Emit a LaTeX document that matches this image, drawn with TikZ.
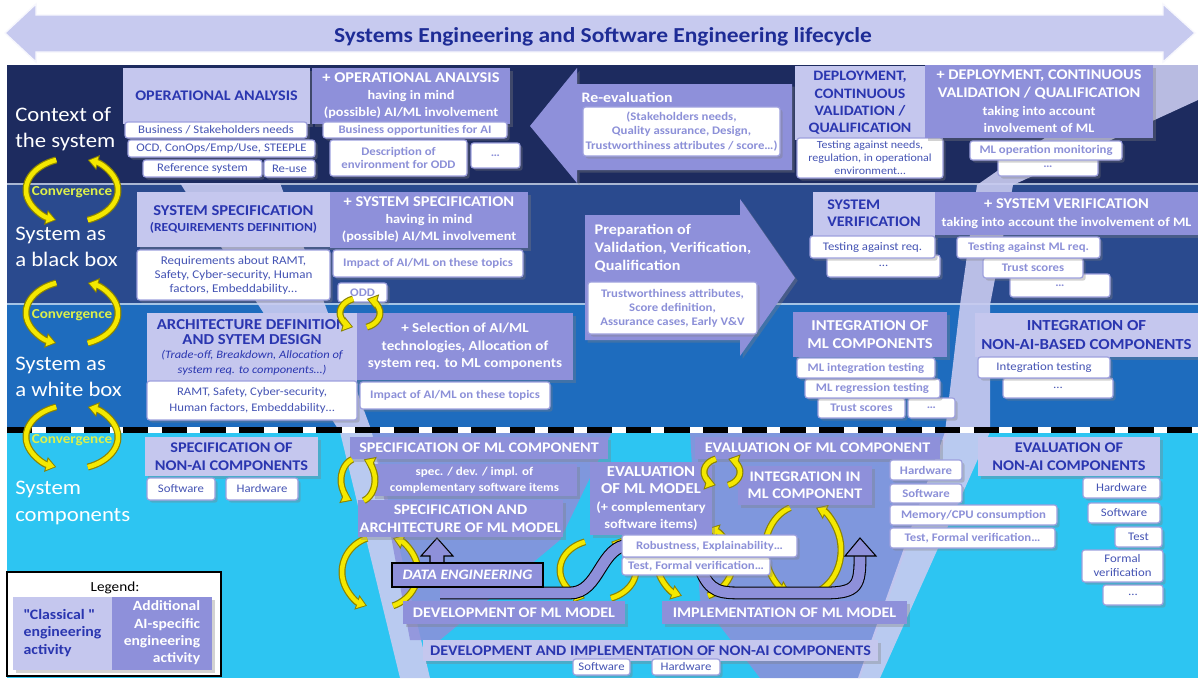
\documentclass[tikz,border=0pt]{standalone}
\usepackage{fontspec}
\setmainfont{Carlito}[FakeStretch=1.1]
\usetikzlibrary{shadows,arrows.meta,calc}
\definecolor{clsfill}{HTML}{C5C7EE}
\definecolor{clstext}{HTML}{2A36B0}
\definecolor{aifill}{HTML}{8E90DA}
\definecolor{subcls}{HTML}{4554B4}
\definecolor{subai}{HTML}{8C90D8}
\definecolor{wbord}{HTML}{9EA0DE}
\definecolor{bandA}{HTML}{1D2B5F}
\definecolor{bandB}{HTML}{2A4A8E}
\definecolor{bandC}{HTML}{1E6CBE}
\definecolor{bandD}{HTML}{2DC5F2}
\definecolor{ttl}{HTML}{1E2C96}
\definecolor{yel}{HTML}{F4E800}
\definecolor{yelo}{HTML}{8C8400}
\definecolor{lightV}{HTML}{C9CBF0}
\definecolor{convtxt}{HTML}{DDF04A}
\definecolor{toparrow}{HTML}{C7CAEF}
\newcommand{\fsz}[2]{\fontsize{#1pt}{#2pt}\selectfont}
\newcommand{\bx}[7]{\node[#1, inner sep=0pt, minimum width={(#5-#3)*0.75pt}, minimum height={(#6-#4)*0.75pt}] (#2) at ({(#3+#5)/2},{(#4+#6)/2}) {#7};}
\newcommand{\conv}[4]{%
  \draw[yelo, line width=5.2pt, -{Triangle[length=8pt,width=11pt]}] ([shift={(-110:#3 and #4)}]#1,#2) arc[start angle=-110, end angle=-250, x radius=#3, y radius=#4];
  \draw[yel, line width=3.4pt, shorten >=1.2pt, -{Triangle[length=6pt,width=8pt]}] ([shift={(-110:#3 and #4)}]#1,#2) arc[start angle=-110, end angle=-250, x radius=#3, y radius=#4];
  \draw[yelo, line width=5.2pt, -{Triangle[length=8pt,width=11pt]}] ([shift={(70:#3 and #4)}]#1,#2) arc[start angle=70, end angle=-70, x radius=#3, y radius=#4];
  \draw[yel, line width=3.4pt, shorten >=1.2pt, -{Triangle[length=6pt,width=8pt]}] ([shift={(70:#3 and #4)}]#1,#2) arc[start angle=70, end angle=-70, x radius=#3, y radius=#4];}
\tikzset{
  shd/.style={drop shadow={opacity=0.35, shadow xshift=2pt, shadow yshift=-2pt}},
  cls/.style={fill=clsfill, text=clstext, align=center, font=\bfseries\fsz{11}{13}, shd},
  ai/.style={fill=aifill, text=white, align=center, font=\bfseries\fsz{11}{13}, shd},
  wcls/.style={fill=white, draw=wbord, line width=0.9pt, rounded corners=2pt, text=subcls, align=center, font=\fsz{8.7}{10}, shd},
  wai/.style={fill=white, draw=wbord, line width=0.9pt, rounded corners=2pt, text=subai, align=center, font=\bfseries\fsz{8.7}{10}, shd},
  band/.style={white, align=left, anchor=west, inner sep=0pt, font=\fsz{15.5}{20}},
  convlbl/.style={text=convtxt, font=\bfseries\fsz{10.3}{11}},
  hollow/.style={draw=black, line width=0.8pt, fill=aifill},
}
\begin{document}
\begin{tikzpicture}[x=0.75pt, y=-0.75pt]
\useasboundingbox (0,0) rectangle (1198,678);
\fill[white] (0,0) rectangle (1198,678);
% top arrow
\fill[toparrow, draw=white!85!toparrow, line width=1pt] (5,33) -- (36,4) -- (36,15) -- (1163,15) -- (1163,4) -- (1195,33) -- (1163,62) -- (1163,52) -- (36,52) -- (36,62) -- cycle;
\node[text=ttl, font=\bfseries\fsz{16}{18}] (title) at (603,37) {Systems Engineering and Software Engineering lifecycle};
% bands
\fill[bandA] (7,65) rectangle (1198,183);
\fill[bandB] (7,185) rectangle (1198,303);
\fill[bandC] (7,305) rectangle (1198,428);
\fill[bandD] (7,432) rectangle (1198,678);
\fill[white!60!bandB] (7,183) rectangle (1198,185);
\fill[white!60!bandC] (7,303) rectangle (1198,305);
% V background
\fill[lightV, opacity=0.9] (180,183) -- (280,183) -- (372,432) -- (430,678) -- (400,678) -- (340,432) -- cycle;
\fill[aifill, opacity=0.85] (372,432) -- (612,432) -- (560,540) -- (440,640) -- (410,640) -- cycle;
\fill[aifill, opacity=0.85] (690,432) -- (948,432) -- (860,678) -- (760,678) -- (700,600) -- cycle;
\fill[lightV, opacity=0.9] (1150,65) -- (1198,65) -- (1198,100) -- (1013,185) -- (990,305) -- (990,432) -- (880,678) -- (858,678) -- (945,432) -- (960,305) -- (977,185) -- cycle;
% dashed separator
\draw[white, line width=4.5pt] (7,430) -- (1198,430);
\draw[black, line width=4.5pt, dash pattern=on 19pt off 10pt] (7,430) -- (1198,430);
% band labels
\node[band] (l1) at (15,129) {Context of\\the system};
\node[band] (l2) at (15,247) {System as\\a black box};
\node[band] (l3) at (15,377) {System as\\a white box};
\node[band] (l4) at (15,503) {System\\components};
% convergence
\conv{72}{190}{46}{32}
\conv{72}{313}{46}{32}
\conv{72}{437}{46}{32}
\node[convlbl] (c1) at (72,192) {Convergence};
\node[convlbl] (c2) at (72,315) {Convergence};
\node[convlbl] (c3) at (72,440) {Convergence};
% ================= Band 1
\bx{cls}{oa}{123}{68}{310}{124}{OPERATIONAL ANALYSIS}
\bx{ai, font=\bfseries\fsz{9.7}{12.8}}{oaai}{312}{68}{510}{124}{{\fsz{11.2}{13}+ OPERATIONAL ANALYSIS}\\having in mind\\(possible) AI/ML involvement}
\bx{wcls}{bsn}{125}{122}{307}{138}{Business / Stakeholders needs}
\bx{wcls}{ocd}{128}{140}{315}{157}{OCD, ConOps/Emp/Use, STEEPLE}
\bx{wcls}{refs}{143}{160}{262}{177}{Reference system}
\bx{wcls}{reuse}{264}{160}{315}{177}{Re-use}
\bx{wai}{bopp}{323}{122}{507}{138}{Business opportunities for AI}
\bx{wai}{descodd}{330}{140}{467}{176}{Description of\\environment for ODD}
\bx{wai}{dotsA}{471}{143}{520}{168}{\dots}
% re-evaluation arrow
\fill[aifill, shd] (530,126) -- (577,68) -- (577,84) -- (792,84) -- (792,170) -- (577,170) -- (577,183) -- cycle;
\node[anchor=west, text=white, font=\bfseries\fsz{10.8}{12}] (reev) at (577,97) {Re-evaluation};
\bx{wai, font=\bfseries\fsz{8.7}{10.8}}{reevw}{583}{107}{780}{156}{(Stakeholders needs,\\Quality assurance, Design,\\Trustworthiness attributes / score\dots)}
\bx{cls, font=\bfseries\fsz{10.8}{13}}{dep}{795}{66}{925}{140}{DEPLOYMENT,\\CONTINUOUS\\VALIDATION /\\QUALIFICATION}
\bx{wcls, font=\fsz{8.2}{9.8}}{depw}{797}{138}{943}{178}{Testing against needs,\\regulation, in operational\\environment\dots}
\bx{ai, font=\bfseries\fsz{9.7}{13.3}}{depai}{925}{65}{1153}{138}{{\fsz{11.1}{13}+ DEPLOYMENT, CONTINUOUS}\\{\fsz{11.1}{13}VALIDATION / QUALIFICATION}\\taking into account\\involvement of ML}
\bx{wai}{dotsB}{998}{158}{1098}{176}{\dots}
\bx{wai}{mlop}{970}{141}{1122}{160}{ML operation monitoring}
% ================= Band 2
\bx{cls, font=\bfseries\fsz{9.2}{12}}{ss}{137}{192}{330}{247}{{\fsz{11.3}{13}SYSTEM SPECIFICATION}\\(REQUIREMENTS DEFINITION)}
\bx{wcls, font=\fsz{8.9}{10.5}}{ssw}{137}{250}{330}{300}{Requirements about RAMT,\\Safety, Cyber-security, Human\\factors, Embeddability\dots}
\bx{ai, font=\bfseries\fsz{9.7}{12.8}}{ssai}{330}{192}{528}{248}{{\fsz{11.2}{13}+ SYSTEM SPECIFICATION}\\having in mind\\(possible) AI/ML involvement}
\bx{wai}{ssimp}{333}{250}{523}{277}{Impact of AI/ML on these topics}
\bx{wai}{odd}{338}{283}{387}{302}{ODD}
% preparation arrow
\fill[aifill, shd] (585,215) -- (740,215) -- (740,199) -- (795,278) -- (740,356) -- (740,340) -- (585,340) -- cycle;
\node[anchor=west, text=white, align=left, font=\bfseries\fsz{11}{13.5}] (prep) at (590,248) {Preparation of\\Validation, Verification,\\Qualification};
\bx{wai, font=\bfseries\fsz{8.7}{10.5}}{prepw}{588}{282}{757}{334}{Trustworthiness attributes,\\Score definition,\\Assurance cases, Early V\&V}
\bx{cls}{sv}{813}{192}{935}{237}{\begin{tabular}{@{}l@{}}SYSTEM\\VERIFICATION\end{tabular}}
\bx{wcls}{svdots}{827}{255}{940}{277}{\dots}
\bx{wcls}{svw}{810}{236}{935}{258}{Testing against req.}
\bx{ai, font=\bfseries\fsz{9.7}{13.5}}{svai}{935}{192}{1198}{235}{{\fsz{11.2}{13}+ SYSTEM VERIFICATION}\\taking into account the involvement of ML}
\bx{wai}{svaid}{1010}{274}{1110}{297}{\dots}
\bx{wai}{svait}{983}{258}{1083}{278}{Trust scores}
\bx{wai}{svaiw}{957}{237}{1100}{258}{Testing against ML req.}
% ================= Band 3
\bx{cls, font=\mdseries\itshape\fsz{8.5}{11}}{arch}{147}{313}{357}{382}{{\upshape\bfseries\fsz{11.4}{13}ARCHITECTURE DEFINITION}\\{\upshape\bfseries\fsz{11.4}{13}AND SYTEM DESIGN}\\(Trade-off, Breakdown, Allocation of\\system req. to components\dots)}
\bx{wcls, font=\fsz{8.7}{12}}{archw}{147}{381}{357}{420}{RAMT, Safety, Cyber-security,\\Human factors, Embeddability\dots}
\bx{ai, font=\bfseries\fsz{10.3}{13}}{sel}{357}{313}{573}{380}{+ Selection of AI/ML\\technologies, Allocation of\\system req. to ML components}
\bx{wai}{selw}{360}{382}{550}{409}{Impact of AI/ML on these topics}
\conv{360}{313}{20}{15}
\bx{ai, font=\bfseries\fsz{11.3}{14}}{iml}{793}{312}{947}{357}{INTEGRATION OF\\ML COMPONENTS}
\bx{wai}{iml3}{818}{398}{905}{418}{Trust scores}
\bx{wai}{iml4}{908}{398}{955}{418}{\dots}
\bx{wai}{iml2}{805}{379}{940}{398}{ML regression testing}
\bx{wai}{iml1}{797}{358}{935}{378}{ML integration testing}
\bx{cls, font=\bfseries\fsz{11.5}{14}}{inon}{975}{313}{1198}{357}{INTEGRATION OF\\NON-AI-BASED COMPONENTS}
\bx{wcls}{inon2}{1003}{378}{1113}{398}{\dots}
\bx{wcls}{inon1}{978}{357}{1110}{378}{Integration testing}
% ================= Band 4
\conv{380}{572}{38}{36}
\conv{598}{570}{38}{30}
\conv{695}{562}{38}{36}
\conv{803}{550}{38}{45}
% data flow bands
\draw[line width=0.8pt, double=aifill, double distance=8pt] (440,593) -- (570,593) .. controls (600,593) and (600,545) .. (630,545);
\draw[line width=0.8pt, double=aifill, double distance=8pt] (700,568) .. controls (710,593) and (720,593) .. (745,593) -- (825,593) .. controls (858,593) and (860,585) .. (860,556);
\fill[hollow] (845,556) -- (860,538) -- (876,556) -- cycle;
\fill[hollow] (430,564) -- (430,556) -- (421,556) -- (437,538) -- (453,556) -- (444,556) -- (444,564) -- cycle;
\bx{cls, font=\bfseries\fsz{11.1}{13.5}}{snon}{145}{437}{318}{476}{SPECIFICATION OF\\NON-AI COMPONENTS}
\bx{wcls}{snsw}{147}{478}{215}{500}{Software}
\bx{wcls}{snhw}{226}{478}{298}{500}{Hardware}
\bx{ai}{sml}{350}{437}{608}{459}{SPECIFICATION OF ML COMPONENT}
\bx{ai, font=\bfseries\fsz{8.9}{12}}{comp}{372}{464}{577}{496}{spec. / dev. / impl. of\\complementary software items}
\bx{ai, font=\bfseries\fsz{11}{13.5}}{sarch}{358}{500}{563}{537}{SPECIFICATION AND\\ARCHITECTURE OF ML MODEL}
\conv{358}{480}{17}{22}
\bx{ai, font=\bfseries\fsz{9.8}{12.8}}{eml}{590}{462}{712}{535}{{\fsz{11.4}{13}EVALUATION}\\{\fsz{11.4}{13}OF ML MODEL}\\(+ complementary\\software items)}
\bx{wai}{tfv}{622}{557}{770}{575}{Test, Formal verification\dots}
\bx{wai}{rob}{622}{535}{797}{557}{Robustness, Explainability\dots}
\bx{ai}{evc}{695}{437}{940}{459}{EVALUATION OF ML COMPONENT}
\bx{ai}{iin}{738}{466}{872}{505}{INTEGRATION IN\\ML COMPONENT}
\conv{722}{472}{18}{14}
\node[hollow, text=white, font=\bfseries\itshape\fsz{10.8}{12}, inner sep=0pt, minimum width={151*0.75pt}, minimum height={24*0.75pt}] (de) at (467.5,575) {DATA ENGINEERING};
\bx{ai}{dev}{403}{601}{625}{624}{DEVELOPMENT OF ML MODEL}
\bx{ai}{impl}{662}{601}{907}{624}{IMPLEMENTATION OF ML MODEL}
\bx{cls}{dinon}{423}{640}{878}{661}{DEVELOPMENT AND IMPLEMENTATION OF NON-AI COMPONENTS}
\bx{wcls}{dsw}{573}{659}{630}{675}{Software}
\bx{wcls}{dhw}{652}{659}{720}{675}{Hardware}
\bx{wai}{r1}{890}{460}{962}{480}{Hardware}
\bx{wai}{r2}{890}{484}{962}{503}{Software}
\bx{wai}{r3}{890}{505}{1057}{525}{Memory/CPU consumption}
\bx{wai}{r4}{890}{528}{1055}{548}{Test, Formal verification\dots}
\bx{cls, font=\bfseries\fsz{11.1}{13.5}}{enon}{978}{437}{1160}{476}{EVALUATION OF\\NON-AI COMPONENTS}
\bx{wcls}{e5}{1103}{585}{1163}{605}{\dots}
\bx{wcls, font=\fsz{8.7}{10.5}}{e4}{1082}{550}{1163}{582}{Formal\\verification}
\bx{wcls}{e3}{1115}{527}{1162}{547}{Test}
\bx{wcls}{e2}{1088}{503}{1160}{523}{Software}
\bx{wcls}{e1}{1083}{478}{1160}{498}{Hardware}
% legend
\node[fill=white, draw=black, line width=0.8pt, inner sep=0pt, minimum width={214*0.75pt}, minimum height={104*0.75pt}] (leg) at (114,624) {};
\node[font=\fsz{10.4}{11}] (legt) at (115,588) {Legend:};
\bx{cls, font=\bfseries\fsz{10.8}{13}}{legc}{13}{597}{112}{670}{\begin{tabular}{@{}l@{}}\textquotedbl Classical \textquotedbl\\engineering\\activity\end{tabular}}
\bx{ai, font=\bfseries\fsz{10.6}{13}}{lega}{112}{597}{212}{670}{\begin{tabular}{@{}r@{}}Additional\\AI-specific\\engineering\\activity\end{tabular}}
\end{tikzpicture}
\end{document}
